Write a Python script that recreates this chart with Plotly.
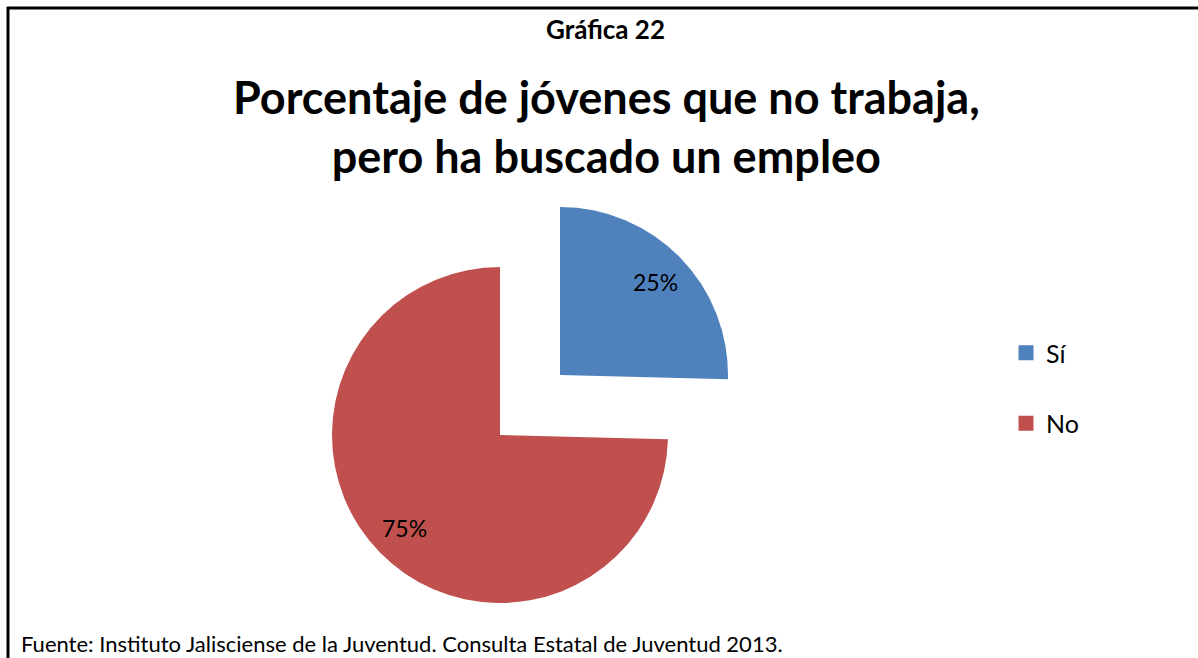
import math
import plotly.graph_objects as go

# data
labels = ["Sí", "No"]
values = [25.4, 74.6]
colors = ["#4F81BD", "#C0504D"]

chart_label = "Gráfica 22"
title_text = "Porcentaje de jóvenes que no trabaja,<br>pero ha buscado un empleo"
source_text = "Fuente: Instituto Jalisciense de la Juventud. Consulta Estatal de Juventud 2013."

W, H = 1198, 658
FONT = "Lato"
CLEAR = "rgba(0,0,0,0)"
R = 168
CENTERS = [(560, 375), (500, 435)]  # exploded Sí, main No


def px_domain(cx, cy, r):
    # square pie box in pixels -> paper fractions (margins are zero)
    return dict(x=[(cx - r) / W, (cx + r) / W],
                y=[1 - (cy + r) / H, 1 - (cy - r) / H])


fig = go.Figure()

total = sum(values)
start = 0.0
label_notes = []
for i, (lab, val, col) in enumerate(zip(labels, values, colors)):
    slice_colors = [CLEAR] * len(labels)
    slice_colors[i] = col
    cx, cy = CENTERS[i]
    fig.add_trace(go.Pie(
        labels=labels, values=values, sort=False, direction="clockwise", rotation=0,
        marker=dict(colors=slice_colors, line=dict(width=0)),
        textinfo="none", domain=px_domain(cx, cy, R), showlegend=False,
        hoverinfo="label+percent",
    ))
    # percentage label along the slice bisector, like Excel does
    mid = (start + val / 2) / total * 2 * math.pi
    start += val
    lx = cx + 0.79 * R * math.sin(mid)
    ly = cy - 0.79 * R * math.cos(mid)
    label_notes.append(dict(
        text=f"{val / total:.0%}", x=lx / W, y=1 - ly / H, xref="paper", yref="paper",
        showarrow=False, xanchor="center", yanchor="middle",
        font=dict(family=FONT, size=23, color="black")))

# legend entries
for lab, col in zip(labels, colors):
    fig.add_trace(go.Scatter(
        x=[None], y=[None], mode="markers", name=lab, legendgroup=lab,
        marker=dict(symbol="square", size=15, color=col),
    ))

fig.update_layout(
    width=W, height=H,
    margin=dict(l=0, r=0, t=0, b=0),
    paper_bgcolor="white", plot_bgcolor="white",
    xaxis=dict(visible=False), yaxis=dict(visible=False),
    showlegend=True,
    legend=dict(x=1006 / W, y=1 - 330 / H, xanchor="left", yanchor="top",
                font=dict(family=FONT, size=25, color="black"),
                tracegroupgap=35, itemwidth=30, bgcolor=CLEAR),
    annotations=[
        dict(text=chart_label, x=605 / W, y=1 - 29 / H, xref="paper", yref="paper",
             showarrow=False, xanchor="center", yanchor="middle",
             font=dict(family=FONT, size=26, color="black", weight="bold")),
        dict(text=title_text, x=606 / W, y=1 - 127 / H, xref="paper", yref="paper",
             showarrow=False, xanchor="center", yanchor="middle",
             font=dict(family=FONT, size=45, color="black", weight="bold")),
        dict(text=source_text, x=19 / W, y=1 - 643 / H, xref="paper", yref="paper",
             showarrow=False, xanchor="left", yanchor="middle",
             font=dict(family=FONT, size=22, color="black")),
    ] + label_notes,
    shapes=[
        dict(type="line", xref="paper", yref="paper", x0=7 / W, x1=1,
             y0=1 - 8 / H, y1=1 - 8 / H, line=dict(color="black", width=3)),
        dict(type="line", xref="paper", yref="paper", x0=8 / W, x1=8 / W,
             y0=1 - 7 / H, y1=0, line=dict(color="black", width=3)),
    ],
)

fig.write_html("out.html", config={"displayModeBar": False},
               post_script="document.body.style.margin = '0';")
